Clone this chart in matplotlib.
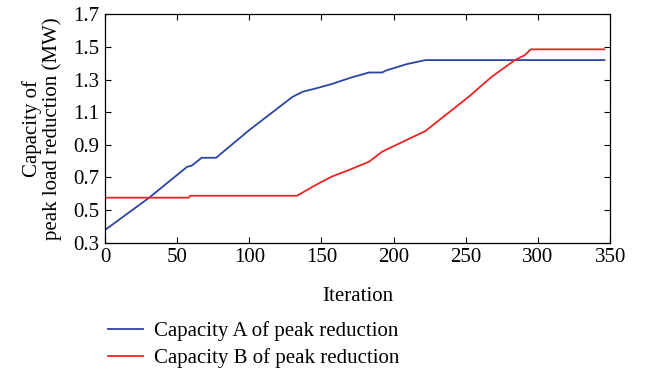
import numpy as np
import matplotlib.pyplot as plt

plt.rcParams['font.family'] = ['Liberation Serif', 'DejaVu Serif']

# breakpoints of the two capacity curves (iteration, MW)
iter_a = [0, 30, 57, 60, 67, 77, 100, 130, 137, 146, 157, 171, 183, 192, 195, 209, 222, 300, 346]
cap_a = [0.378, 0.572, 0.766, 0.772, 0.821, 0.821, 0.991, 1.195, 1.226, 1.246, 1.273, 1.314, 1.344, 1.344, 1.357, 1.395, 1.42, 1.42, 1.42]

iter_b = [0, 58, 59, 133, 146, 157, 169, 183, 192, 203, 222, 236, 252, 268, 284, 291, 295, 346]
cap_b = [0.576, 0.576, 0.588, 0.588, 0.654, 0.705, 0.746, 0.797, 0.858, 0.905, 0.985, 1.083, 1.195, 1.318, 1.42, 1.451, 1.486, 1.486]

xticks = np.arange(0, 351, 50)
yticks = [0.3, 0.5, 0.7, 0.9, 1.1, 1.3, 1.5, 1.7]

fs = 15

fig = plt.figure(figsize=(6.46, 3.70), dpi=100)
ax = fig.add_axes([0.1625, 0.344, 0.782, 0.617])

la, = ax.plot(iter_a, cap_a, color='#2b45a3', lw=1.3, label='Capacity A of peak reduction')
lb, = ax.plot(iter_b, cap_b, color='#ee2424', lw=1.3, label='Capacity B of peak reduction')

ax.set_xlim(0, 350)
ax.set_ylim(0.3, 1.7)
ax.set_xticks(xticks)
ax.set_yticks(yticks)
ax.set_yticklabels(['%.1f' % v for v in yticks])
ax.tick_params(direction='in', length=4, top=True, right=True, labelsize=fs, pad=4)
for s in ax.spines.values():
    s.set_linewidth(0.9)

ax.set_xlabel('Iteration', fontsize=fs, labelpad=14)
ax.set_ylabel('Capacity of\npeak load reduction (MW)', fontsize=fs, labelpad=8, linespacing=1.05)

fig.legend(handles=[la, lb], loc='upper left', bbox_to_anchor=(0.167, 0.132), frameon=False,
           fontsize=fs, handlelength=1.7, handletextpad=0.5, labelspacing=0.35,
           borderaxespad=0, borderpad=0)

fig.savefig('out.png', dpi=100)
